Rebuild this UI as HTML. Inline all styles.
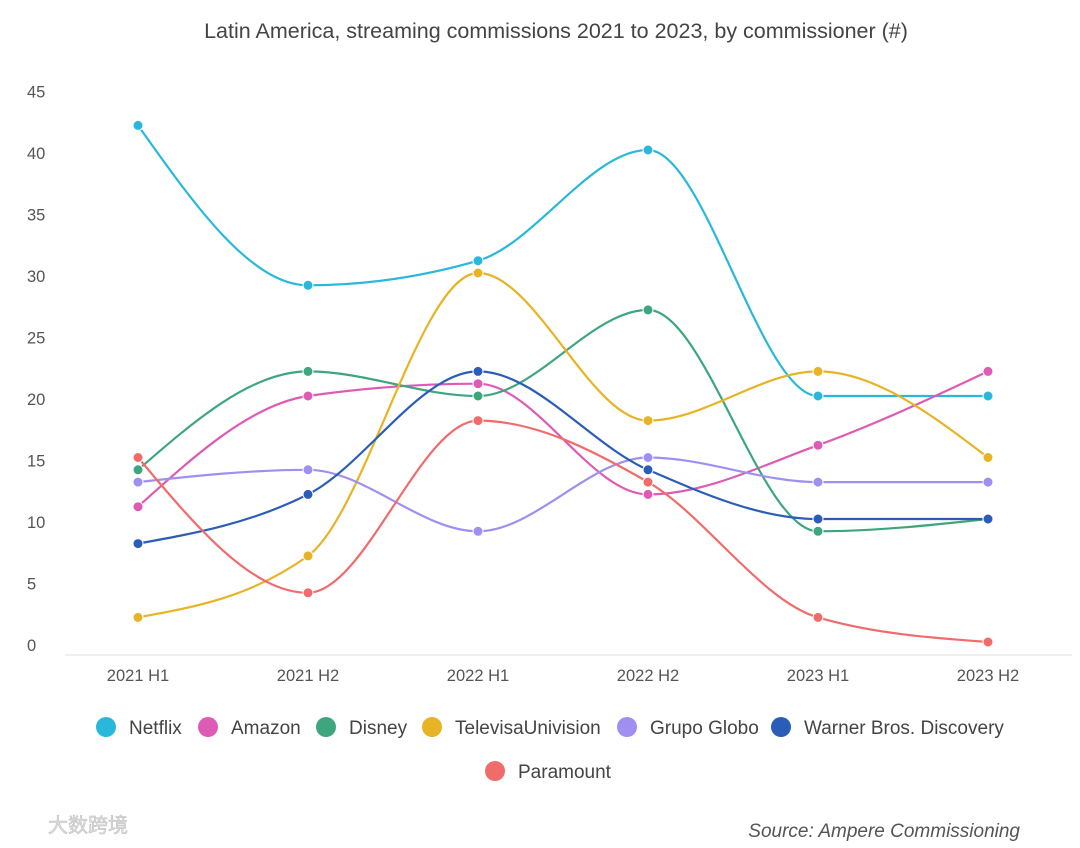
<!DOCTYPE html>
<html><head><meta charset="utf-8">
<style>
body{margin:0;background:#fff;font-family:"Liberation Sans",sans-serif;}
svg text{font-family:"Liberation Sans",sans-serif;}
</style></head>
<body>
<svg id="chart" width="1080" height="843" xmlns="http://www.w3.org/2000/svg">
<text x="556" y="38" text-anchor="middle" font-size="21.5" fill="#444">Latin America, streaming commissions 2021 to 2023, by commissioner (#)</text>
<g id="yaxis"></g>
<g id="xaxis"></g>
<g id="series"></g>
<g id="legend"></g>
<text x="48" y="832" font-size="20" fill="#ddd" stroke="#bbb" stroke-width="0.5">大数跨境</text>
<text x="1020" y="837" text-anchor="end" font-size="19" font-style="italic" fill="#555">Source: Ampere Commissioning</text>
</svg>
<script>
const categories=["2021 H1","2021 H2","2022 H1","2022 H2","2023 H1","2023 H2"];
const yTicks=[0,5,10,15,20,25,30,35,40,45];
const seriesNames=["Netflix","Amazon","Disney","TelevisaUnivision","Grupo Globo","Warner Bros. Discovery","Paramount"];
const seriesColors=["#29b8dc","#de5bb5","#3ea67e","#e8b324","#a08ff0","#2a5db8","#f26b6b"];
const netflix=[42,29,31,40,20,20];
const amazon=[11,20,21,12,16,22];
const disney=[14,22,20,27,9,10];
const televisa=[2,7,30,18,22,15];
const globo=[13,14,9,15,13,13];
const wbd=[8,12,22,14,10,10];
const paramount=[15,4,18,13,2,0];
const allSeries=[netflix,amazon,disney,televisa,globo,wbd,paramount];

const NS="http://www.w3.org/2000/svg";
function x(i){return 138+i*170;}
function y(v){return 642-v*12.3;}
function mk(t,a,p){const e=document.createElementNS(NS,t);for(const k in a)e.setAttribute(k,a[k]);p.appendChild(e);return e;}
const ya=document.getElementById('yaxis'),xa=document.getElementById('xaxis'),sg=document.getElementById('series'),lg=document.getElementById('legend');
yTicks.forEach(v=>{const t=mk('text',{x:27,y:y(v)+9,'font-size':16.5,fill:'#555'},ya);t.textContent=v;

});
const base=mk('line',{x1:65,x2:1072,y1:655,y2:655,stroke:'#e0e0e0','stroke-width':1},xa);


categories.forEach((c,i)=>{const t=mk('text',{x:x(i),y:681,'text-anchor':'middle','font-size':16.5,fill:'#555'},xa);t.textContent=c;

});
function monotone(px,py){const n=px.length,d=[],m=[];for(let i=0;i<n-1;i++)d.push((py[i+1]-py[i])/(px[i+1]-px[i]));
m[0]=d[0];m[n-1]=d[n-2];for(let i=1;i<n-1;i++){if(d[i-1]*d[i]<=0)m[i]=0;else{const h0=px[i]-px[i-1],h1=px[i+1]-px[i];const s=(d[i-1]*h1+d[i]*h0)/(h0+h1);m[i]=(Math.sign(d[i-1])+Math.sign(d[i]))*Math.min(Math.abs(d[i-1]),Math.abs(d[i]),0.5*Math.abs(s));}}
m[0]=(3*d[0]-m[1])/2;m[n-1]=(3*d[n-2]-m[n-2])/2;
let s="M"+px[0]+","+py[0];for(let i=0;i<n-1;i++){const h=(px[i+1]-px[i])/3;s+=" C"+(px[i]+h)+","+(py[i]+m[i]*h)+" "+(px[i+1]-h)+","+(py[i+1]-m[i+1]*h)+" "+px[i+1]+","+py[i+1];}return s;}
allSeries.forEach((vals,si)=>{const g=mk('g',{},sg);


const px=vals.map((v,i)=>x(i)),py=vals.map(v=>y(v));
const p=mk('path',{d:monotone(px,py),fill:'none',stroke:seriesColors[si],'stroke-width':2.2},g);


vals.forEach((v,i)=>{const c=mk('circle',{cx:x(i),cy:y(v),r:5,fill:seriesColors[si],stroke:'#fff','stroke-width':1},g);

});});
const legPos=[[106,727],[208,727],[326,727],[432,727],[627,727],[781,727],[495,771]];
seriesNames.forEach((n,i)=>{const g=mk('g',{},lg);


mk('circle',{cx:legPos[i][0],cy:legPos[i][1],r:10,fill:seriesColors[i]},g);
const t=mk('text',{x:legPos[i][0]+23,y:legPos[i][1]+7,'font-size':19,fill:'#444'},g);t.textContent=n;});
</script>
</body></html>
